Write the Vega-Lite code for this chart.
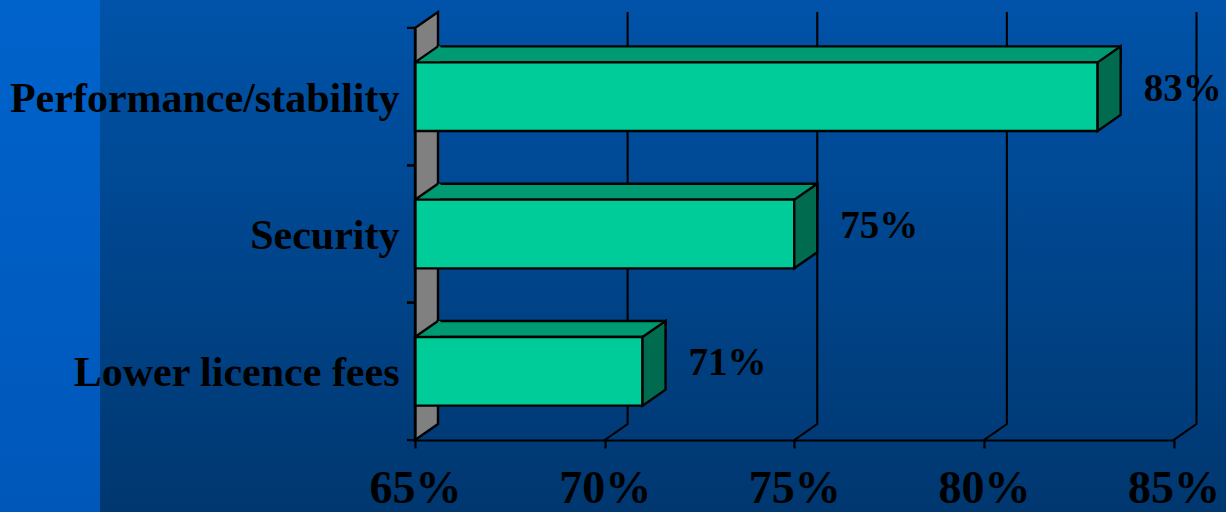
{
  "$schema": "https://vega.github.io/schema/vega-lite/v6.json",
  "width": 1226,
  "height": 512,
  "padding": 0,
  "autosize": {"type": "none"},
  "background": "#00457F",
  "config": {"view": {"stroke": null}, "font": "Liberation Serif"},
  "datasets": {
    "reasons": [
      {"reason": "Performance/stability", "share": 0.83},
      {"reason": "Security", "share": 0.75},
      {"reason": "Lower licence fees", "share": 0.71}
    ],
    "ticks": [{"tick": 0.70}, {"tick": 0.75}, {"tick": 0.80}, {"tick": 0.85}],
    "one": [{"k": 1}]
  },
  "layer": [
    {
      "data": {"name": "one"},
      "mark": {"type": "point", "shape": "M-415,-371.4H811V140.7H-415Z", "size": 4, "filled": true, "opacity": 1, "strokeWidth": 0,
        "fill": {"gradient": "linear", "x1": 0, "y1": 0, "x2": 0, "y2": 1, "stops": [{"offset": 0, "color": "#0053A9"}, {"offset": 1, "color": "#00376F"}]}},
      "encoding": {
        "x": {"datum": 0.65, "type": "quantitative",
          "scale": {"domain": [0.65, 0.85], "range": [415, 1173.5], "nice": false, "zero": false},
          "axis": {"values": [0.65, 0.7, 0.75, 0.8, 0.85], "format": ".0%", "orient": "bottom", "offset": -72,
            "domainColor": "black", "domainWidth": 2.2, "tickColor": "black", "tickWidth": 2.2, "tickSize": 8,
            "labelFont": "Liberation Serif", "labelFontWeight": "bold", "labelFontSize": 46, "labelColor": "black",
            "labelPadding": 18, "labelFlush": false, "labelOverlap": false, "grid": false, "title": null, "zindex": 1}},
        "y": {"datum": "Lower licence fees", "type": "nominal",
          "scale": {"domain": ["Performance/stability", "Security", "Lower licence fees"], "range": [28, 440], "paddingInner": 0, "paddingOuter": 0},
          "axis": {"orient": "left", "offset": -415, "domainColor": "black", "domainWidth": 2.2, "ticks": false, "tickSize": 0,
            "labelFont": "Liberation Serif", "labelFontWeight": "bold", "labelFontSize": 42, "labelColor": "black",
            "labelPadding": 16, "labelOffset": 2, "labelLimit": 0, "title": null, "zindex": 1}}
      }
    },
    {
      "data": {"name": "one"},
      "mark": {"type": "point", "shape": "M-415,-371.4H-315V140.7H-415Z", "size": 4, "filled": true, "opacity": 1, "strokeWidth": 0,
        "fill": {"gradient": "linear", "x1": 0, "y1": 0, "x2": 0, "y2": 1, "stops": [{"offset": 0, "color": "#0063CB"}, {"offset": 1, "color": "#0057BA"}]}},
      "encoding": {
        "x": {"datum": 0.65, "type": "quantitative"},
        "y": {"datum": "Lower licence fees", "type": "nominal"}
      }
    },
    {
      "data": {"name": "one"},
      "mark": {"type": "point", "shape": "M0,-343.3L23,-359.3L23,52.7L0,68.7Z", "size": 4, "filled": true, "opacity": 1, "fill": "#808080", "stroke": "black", "strokeWidth": 2.4},
      "encoding": {
        "x": {"datum": 0.65, "type": "quantitative"},
        "y": {"datum": "Lower licence fees", "type": "nominal"}
      }
    },
    {
      "data": {"name": "ticks"},
      "mark": {"type": "point", "shape": "M0,68.7L23,52.7L23,-359.3", "size": 4, "filled": false, "opacity": 1, "stroke": "black", "strokeWidth": 2.1},
      "encoding": {
        "x": {"field": "tick", "type": "quantitative"},
        "y": {"datum": "Lower licence fees", "type": "nominal"}
      }
    },
    {
      "data": {"name": "reasons"},
      "mark": {"type": "point", "shape": "M-8,-68.7L0,-68.7M-8,68.7L0,68.7", "size": 4, "filled": false, "opacity": 1, "stroke": "black", "strokeWidth": 2.2},
      "encoding": {
        "x": {"datum": 0.65, "type": "quantitative"},
        "y": {"field": "reason", "type": "nominal"}
      }
    },
    {
      "data": {"name": "reasons"},
      "mark": {"type": "bar", "orient": "horizontal", "height": 16, "yOffset": -42.3, "xOffset": 23, "x2Offset": 23, "fill": "#009A72", "stroke": "black", "strokeWidth": 2.4},
      "encoding": {
        "x": {"field": "share", "type": "quantitative"},
        "x2": {"datum": 0.65},
        "y": {"field": "reason", "type": "nominal"}
      }
    },
    {
      "data": {"name": "reasons"},
      "mark": {"type": "point", "shape": "M0,-34.3L23,-50.3L25.5,-50.3L25.5,-34.3Z", "size": 4, "filled": true, "opacity": 1, "fill": "#009A72", "strokeWidth": 0},
      "encoding": {
        "x": {"datum": 0.65, "type": "quantitative"},
        "y": {"field": "reason", "type": "nominal"}
      }
    },
    {
      "data": {"name": "reasons"},
      "mark": {"type": "point", "shape": "M0,-34.3L23,-50.3", "size": 4, "filled": false, "opacity": 1, "stroke": "black", "strokeWidth": 2.4},
      "encoding": {
        "x": {"datum": 0.65, "type": "quantitative"},
        "y": {"field": "reason", "type": "nominal"}
      }
    },
    {
      "data": {"name": "reasons"},
      "mark": {"type": "bar", "orient": "horizontal", "height": {"band": 0.5}, "fill": "#00CC99", "stroke": "black", "strokeWidth": 2.4},
      "encoding": {
        "x": {"field": "share", "type": "quantitative"},
        "x2": {"datum": 0.65},
        "y": {"field": "reason", "type": "nominal"}
      }
    },
    {
      "data": {"name": "reasons"},
      "mark": {"type": "point", "shape": "M0,-34.3L23,-50.3L23,18.3L0,34.3Z", "size": 4, "filled": true, "opacity": 1, "fill": "#006B4E", "stroke": "black", "strokeWidth": 2.4},
      "encoding": {
        "x": {"field": "share", "type": "quantitative"},
        "y": {"field": "reason", "type": "nominal"}
      }
    },
    {
      "data": {"name": "reasons"},
      "mark": {"type": "text", "align": "left", "baseline": "alphabetic", "dx": 46, "dy": 4, "font": "Liberation Serif", "fontWeight": "bold", "fontSize": 39, "color": "black"},
      "encoding": {
        "x": {"field": "share", "type": "quantitative"},
        "y": {"field": "reason", "type": "nominal"},
        "text": {"field": "share", "type": "quantitative", "format": ".0%"}
      }
    }
  ]
}
